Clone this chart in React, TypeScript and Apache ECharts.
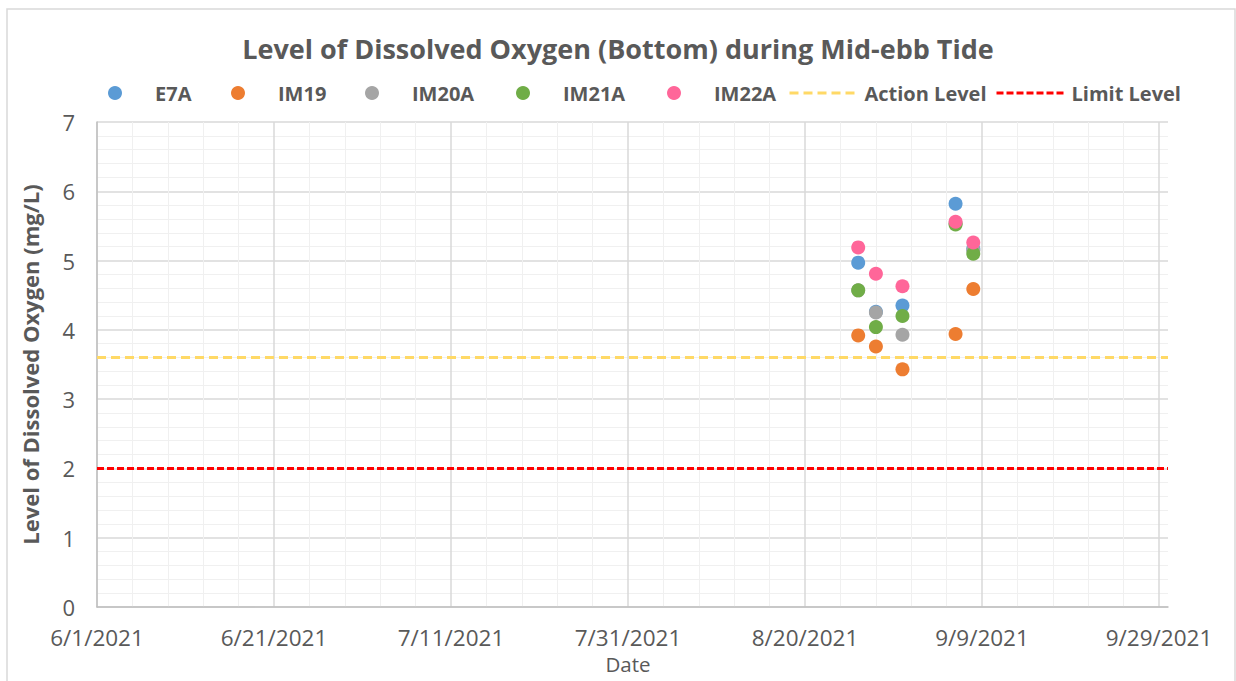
import React, { useEffect, useRef } from "react";
import * as echarts from "echarts";

const dates = ["2021-08-26", "2021-08-28", "2021-08-31", "2021-09-06", "2021-09-08"];
const e7a = [4.97, 4.26, 4.35, 5.82, 5.17];
const im19 = [3.92, 3.76, 3.43, 3.94, 4.59];
const im20a = [4.57, 4.25, 3.93, 5.54, 5.15];
const im21a = [4.57, 4.04, 4.2, 5.52, 5.1];
const im22a = [5.19, 4.81, 4.63, 5.56, 5.26];
const actionLevel = 3.6;
const limitLevel = 2;
const axisStart = "2021-06-01";
const axisEnd = "2021-09-30";
const lastTick = "2021-09-29";
const legendNames = ["E7A", "IM19", "IM20A", "IM21A", "IM22A", "Action Level", "Limit Level"];

const DAY = 86400000;
const toMs = (s: string) => {
  const [y, m, d] = s.split("-").map(Number);
  return Date.UTC(y, m - 1, d);
};
const base = toMs(axisStart);
const toDay = (s: string) => Math.round((toMs(s) - base) / DAY);
const fmt = (v: number) => {
  const dt = new Date(base + v * DAY);
  return `${dt.getUTCMonth() + 1}/${dt.getUTCDate()}/${dt.getUTCFullYear()}`;
};

const FONT = "'Open Sans', sans-serif";
const TXT = "#595959";
const legendLefts = [108, 231, 365, 516, 667, 788, 995];

export default function App() {
  const ref = useRef<HTMLDivElement>(null);
  useEffect(() => {
    if (!ref.current) return;
    const chart = echarts.init(ref.current, undefined, { renderer: "svg" });
    const maxDay = toDay(axisEnd);
    const tickMax = toDay(lastTick);
    const pts = (vals: number[]) => dates.map((d, i) => [toDay(d), vals[i]]);
    const scatter = (name: string, vals: number[], color: string) => ({
      name,
      type: "scatter",
      xAxisIndex: 0,
      yAxisIndex: 0,
      symbol: "circle",
      symbolSize: 14,
      itemStyle: { color, opacity: 1 },
      data: pts(vals),
    });
    const hline = (name: string, v: number, color: string, dash: number[]) => ({
      name,
      type: "line",
      xAxisIndex: 0,
      yAxisIndex: 0,
      symbol: "none",
      lineStyle: { color, width: 3, type: dash },
      itemStyle: { color, opacity: 0 },
      data: [
        [0, v],
        [maxDay, v],
      ],
      z: 1,
    });
    const legends = legendNames.map((name, i) => ({
      top: 83,
      left: legendLefts[i],
      itemWidth: 70,
      itemHeight: 14,
      padding: 0,
      lineStyle: { width: 3 },
      textStyle: { fontFamily: FONT, fontSize: 20, fontWeight: "bold", color: TXT },
      data: [i < 5 ? { name, icon: "circle" } : { name, itemStyle: { opacity: 0 } }],
    }));
    chart.setOption({
      animation: false,
      textStyle: { fontFamily: FONT },
      title: {
        text: "Level of Dissolved Oxygen (Bottom) during Mid-ebb Tide",
        left: "center",
        top: 30,
        textStyle: { fontFamily: FONT, fontSize: 27, fontWeight: "bold", color: TXT },
      },
      legend: legends,
      graphic: [
        {
          type: "rect",
          shape: { x: 7, y: 9, width: 1228, height: 700 },
          style: { fill: "none", stroke: "#d9d9d9", lineWidth: 1.5 },
          silent: true,
        },
      ],
      grid: [
        { left: 97, right: 68, top: 122, bottom: 74 },
        { left: 97, right: 77, top: 122, bottom: 74 },
      ],
      xAxis: [
        {
          type: "value",
          gridIndex: 0,
          min: 0,
          max: maxDay,
          axisLine: { show: true, lineStyle: { color: "#bfbfbf", width: 1.5 } },
          axisTick: { show: false },
          axisLabel: { show: false },
          splitLine: { show: false },
        },
        {
          type: "value",
          gridIndex: 1,
          min: 0,
          max: tickMax,
          interval: 20,
          axisLine: { show: false },
          axisTick: { show: false },
          axisLabel: {
            show: true,
            formatter: (v: number) => fmt(v),
            fontFamily: FONT,
            fontSize: 22.5,
            color: TXT,
            margin: 19,
          },
          splitLine: { show: true, lineStyle: { color: "#d9d9d9", width: 1.5 } },
          minorTick: { show: false, splitNumber: 5 },
          minorSplitLine: { show: true, lineStyle: { color: "#f0f0f0", width: 1 } },
          name: "Date",
          nameLocation: "middle",
          nameGap: 41,
          nameTextStyle: { fontFamily: FONT, fontSize: 20.5, color: TXT },
        },
      ],
      yAxis: [
        {
          type: "value",
          gridIndex: 0,
          min: 0,
          max: 7,
          interval: 1,
          axisLine: { show: true, lineStyle: { color: "#bfbfbf", width: 1.5 } },
          axisTick: { show: false },
          axisLabel: { fontFamily: FONT, fontSize: 22, color: TXT, margin: 22 },
          splitLine: { show: true, lineStyle: { color: "#d9d9d9", width: 1.5 } },
          minorTick: { show: false, splitNumber: 5 },
          minorSplitLine: { show: true, lineStyle: { color: "#f0f0f0", width: 1 } },
          name: "Level of Dissolved Oxygen (mg/L)",
          nameLocation: "middle",
          nameGap: 56,
          nameTextStyle: { fontFamily: FONT, fontSize: 22, fontWeight: "bold", color: TXT },
        },
        {
          type: "value",
          gridIndex: 1,
          min: 0,
          max: 7,
          show: false,
          splitLine: { show: false },
        },
      ],
      series: [
        hline("Action Level", actionLevel, "#FFD966", [9, 5]),
        hline("Limit Level", limitLevel, "#FF0000", [7, 3]),
        scatter("E7A", e7a, "#5B9BD5"),
        scatter("IM19", im19, "#ED7D31"),
        scatter("IM20A", im20a, "#A5A5A5"),
        scatter("IM21A", im21a, "#70AD47"),
        scatter("IM22A", im22a, "#FF6699"),
      ],
    });
    return () => chart.dispose();
  }, []);
  return (
    <div
      ref={ref}
      style={{ position: "absolute", left: 0, top: 0, width: 1236, height: 681, background: "#fff" }}
    />
  );
}
